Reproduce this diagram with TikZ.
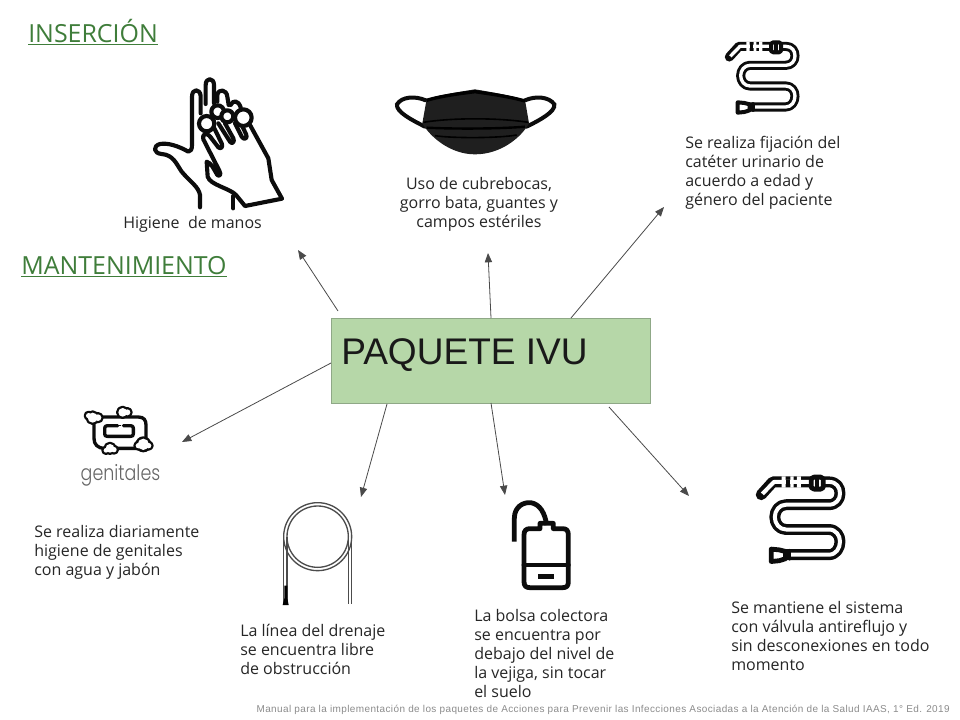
\documentclass[tikz,border=0pt]{standalone}
\usepackage{fontspec}
\setmainfont{Open Sans}
\newfontfamily\arialf{Liberation Sans}
\newfontfamily\arialspaced[LetterSpace=4]{Liberation Sans}
\newfontfamily\thinf[UprightFont={* Light}]{Poppins}
\usetikzlibrary{arrows.meta}
\definecolor{titlegreen}{HTML}{3F7D3A}
\definecolor{boxgreen}{HTML}{B6D7A8}
\definecolor{boxline}{HTML}{8FA887}
\definecolor{txt}{HTML}{262626}
\definecolor{arrowc}{HTML}{4A4A4A}
\definecolor{inkc}{HTML}{0C0C0C}
\tikzset{
  body/.style={font=\fontsize{12pt}{14.25pt}\selectfont,text=txt,inner sep=0pt,align=left,anchor=north west},
  bodyc/.style={body,align=center,anchor=north},
  heading/.style={font=\fontsize{18.7pt}{22pt}\selectfont,text=titlegreen,inner sep=0pt,anchor=west},
  link/.style={draw=arrowc,line width=0.6pt,-{Triangle[length=7pt,width=5.5pt,fill=arrowc]}},
  ink/.style={draw=inkc,line cap=round,line join=round},
}
% tube icon: #1,#2 origin in px, #3 scale from 3x-crop units to px
\newcommand{\tubeicon}[3]{%
  \begin{scope}[shift={(#1,#2)},x=#3*0.75pt,y=-#3*0.75pt]
    \draw[ink,line width=#3*20.5pt] (43,78) -- (72,46) -- (170,46) -- (212,46) .. controls (232,46) and (240,60) .. (240,75) .. controls (240,90) and (230,103) .. (212,103) -- (105,103) .. controls (88,103) and (77,118) .. (77,134) .. controls (77,150) and (88,165) .. (105,165) -- (212,165) .. controls (230,165) and (240,180) .. (240,195) .. controls (240,212) and (230,228) .. (212,228) -- (90,228);
    \draw[white,line width=#3*7.5pt,line join=round] (46,76) -- (75,46) -- (170,46) -- (212,46) .. controls (232,46) and (240,60) .. (240,75) .. controls (240,90) and (230,103) .. (212,103) -- (105,103) .. controls (88,103) and (77,118) .. (77,134) .. controls (77,150) and (88,165) .. (105,165) -- (212,165) .. controls (230,165) and (240,180) .. (240,195) .. controls (240,212) and (230,228) .. (212,228) -- (110,228);
    \fill[white] (94,32) rectangle (104,60) (116,32) rectangle (124,60) (132,32) rectangle (142,60);
    \fill[inkc] (106,40) rectangle (114,52);
    \draw[ink,fill=white,line width=#3*9pt] (168,38) -- (175,34) -- (192,34) -- (198,38) -- (198,60) -- (192,64) -- (175,64) -- (168,60) -- cycle;
    \draw[ink,line width=#3*7pt] (183,34) -- (183,64);
    \draw[ink,fill=white,line width=#3*9pt] (68,214) -- (88,216) -- (104,220) -- (104,238) -- (88,243) -- (68,245) -- cycle;
    \draw[ink,line width=#3*7pt] (114,218) -- (114,238);
  \end{scope}}
\begin{document}
\begin{tikzpicture}[x=0.75pt,y=-0.75pt]
\useasboundingbox (0,0) rectangle (960,720);
\fill[white] (0,0) rectangle (960,720);

% headings
\node[heading] (insercion) at (28,32.5) {\underline{INSERCIÓN}};
\node[heading] (mantenimiento) at (21,267) {\underline{MANTENIMIENTO}};

% central box
\node[draw=boxline,fill=boxgreen,line width=0.5pt,minimum width=239.25pt,minimum height=63.75pt,inner sep=0pt] (paquete) at (490.5,360.5) {};
\node[font=\arialf\fontsize{27.8pt}{30pt}\selectfont,text=black!90,inner sep=0pt,anchor=west] (paquetetxt) at (341,355) {PAQUETE IVU};

% hand
\begin{scope}[shift={(140,60)},x=0.25pt,y=-0.25pt]
  \draw[ink,line width=3.1pt] (180,442) -- (180,405) .. controls (176,380) and (150,365) .. (125,335) .. controls (108,310) and (100,285) .. (65,282) .. controls (40,280) and (38,258) .. (60,252) .. controls (85,248) and (115,258) .. (145,275) .. controls (152,275) and (156,268) .. (156,255) -- (156,110) .. controls (156,85) and (180,85) .. (182,108) -- (182,160);
  \draw[ink,line width=3.1pt] (197,132) -- (197,75) .. controls (197,52) and (222,52) .. (222,75) -- (222,130);
  \draw[ink,line width=3.1pt] (232,125) -- (232,105) .. controls (235,85) and (260,88) .. (262,110) -- (266,135);
  \draw[ink,line width=3.1pt] (272,135) .. controls (278,120) and (295,120) .. (302,142);
  \draw[ink,line width=3.1pt] (280,445) -- (280,408);
  \draw[ink,line width=3.1pt] (330,195) -- (385,295) -- (395,360) -- (426,416) -- (315,438) -- (288,405) .. controls (270,385) and (210,375) .. (203,350) -- (200,305) .. controls (215,310) and (220,325) .. (232,345) .. controls (238,350) and (245,345) .. (238,332) -- (190,238) .. controls (185,222) and (200,215) .. (212,232);
  \draw[ink,line width=3.1pt] (212,232) -- (235,262) .. controls (242,268) and (250,262) .. (245,250) -- (218,195);
  \draw[ink,line width=3.1pt] (235,190) -- (270,245) .. controls (276,255) and (285,245) .. (280,235) -- (255,190);
  \draw[ink,line width=3.1pt] (285,190) -- (305,230) .. controls (312,242) and (325,235) .. (318,222) -- (305,195);
  \draw[ink,fill=white,line width=3.1pt] (233,155) circle (19);
  \draw[ink,fill=white,line width=3.1pt] (262,169) circle (18);
  \draw[ink,fill=white,line width=3.1pt] (310,173) circle (25);
  \draw[ink,fill=white,line width=3.1pt] (200,191) circle (23);
\end{scope}

% mask
\begin{scope}[shift={(385,75)},x=0.25pt,y=-0.25pt]
  \draw[draw=inkc,line width=3pt,line cap=round] (122,76) .. controls (90,62) and (50,65) .. (36,88) .. controls (32,110) and (80,135) .. (120,155);
  \draw[draw=inkc,line width=3pt,line cap=round] (420,76) .. controls (452,62) and (492,65) .. (508,88) .. controls (512,110) and (465,135) .. (425,155);
  \fill[fill=black!88] (125,72) .. controls (170,58) and (240,48) .. (270,43) .. controls (310,50) and (375,60) .. (420,75) -- (432,145) .. controls (410,185) and (350,238) .. (270,238) .. controls (195,238) and (135,185) .. (112,145) -- cycle;
  \draw[draw=black,line width=2.5pt] (125,76) .. controls (170,62) and (240,54) .. (270,50) .. controls (310,56) and (375,65) .. (420,78);
  \draw[draw=black,line width=1.2pt] (115,142) .. controls (200,128) and (340,128) .. (430,142);
  \draw[draw=black,line width=1.8pt] (125,158) .. controls (200,162) and (340,162) .. (420,155);
  \draw[draw=black,line width=1.2pt] (150,182) .. controls (200,190) and (340,190) .. (395,180);
\end{scope}

% tube icons
\tubeicon{715}{31}{0.3333}
\tubeicon{744}{463.5}{0.4}

% soap
\begin{scope}[shift={(70,395)},x=0.25pt,y=-0.25pt]
  \draw[ink,line width=2.5pt] (95,66) -- (205,66) .. controls (222,66) and (228,76) .. (228,90) -- (228,128) (205,160) -- (120,160) (105,160) .. controls (82,160) and (72,148) .. (72,130) -- (72,78);
  \draw[ink,line width=2.5pt] (143,92) -- (112,92) .. controls (106,92) and (104,95) .. (104,100) -- (104,116) .. controls (104,122) and (106,124) .. (112,124) -- (182,124) .. controls (188,124) and (190,122) .. (190,116) -- (190,100) .. controls (190,95) and (188,92) .. (182,92) -- (160,92);
  \fill[inkc] (147,90) rectangle (152,94);
  \foreach \cx/\cy/\rr in {68/68/17,84/68/12,56/62/10,158/52/15,172/52/11,120/160/15,132/164/10,108/166/9,220/148/19,236/152/10,205/152/10}{
    \draw[ink,fill=white,line width=2.5pt] (\cx,\cy) circle (\rr);
  }
  \foreach \cx/\cy/\rr in {68/68/15,84/68/10,56/62/8,158/52/13,172/52/9,120/160/13,132/164/8,108/166/7,220/148/17,236/152/8,205/152/8}{
    \fill[white] (\cx,\cy) circle (\rr);
  }
\end{scope}
\node[font=\thinf\fontsize{16pt}{18pt}\selectfont,text=black!60,inner sep=0pt,xscale=0.82] (genitales) at (120.5,475) {genitales};

% catheter
\begin{scope}[shift={(270,495)},x=0.25pt,y=-0.25pt]
  \draw[draw=black!70,line width=1pt] (143,125) circle (102);
  \draw[draw=black!70,line width=1pt] (143,125) circle (92);
  \draw[draw=black!70,line width=1pt] (41,125) -- (41,330) (51,125) -- (51,330) (235,125) -- (235,327) (245,125) -- (245,327);
  \fill[black] (43,272) -- (52,272) -- (52,310) -- (56,330) -- (38,330) -- (43,310) -- cycle;
\end{scope}

% bag
\begin{scope}[shift={(500,490)},x=0.25pt,y=-0.25pt]
  \draw[ink,line cap=butt,line width=3.6pt] (43,155) -- (43,85) .. controls (43,50) and (70,36) .. (92,38) .. controls (120,42) and (135,70) .. (140,105);
  \draw[ink,line width=3.6pt] (72,135) .. controls (72,122) and (78,116) .. (90,116) -- (120,116) -- (120,100) -- (160,100) -- (160,116) -- (188,116) .. controls (200,116) and (205,122) .. (205,135) -- (205,275) .. controls (205,288) and (200,293) .. (188,293) -- (90,293) .. controls (78,293) and (72,288) .. (72,275) -- cycle;
  \draw[ink,line width=3.6pt] (72,225) -- (205,225);
  \fill[inkc] (115,252) rectangle (163,268);
\end{scope}

% labels
\node[body] (higiene) at (123,216) {Higiene\ \ de manos};
\node[bodyc] (cubre) at (479,177) {Uso de cubrebocas,\\gorro bata, guantes y\\campos estériles};
\node[body] (fijacion) at (685,136) {Se realiza fijación del\\catéter urinario de\\acuerdo a edad y\\género del paciente};
\node[body] (diaria) at (34,525) {Se realiza diariamente\\higiene de genitales\\con agua y jabón};
\node[body] (linea) at (240,624) {La línea del drenaje\\se encuentra libre\\de obstrucción};
\node[body] (bolsa) at (474,609) {La bolsa colectora\\se encuentra por\\debajo del nivel de\\la vejiga, sin tocar\\el suelo};
\node[body] (sistema) at (731,601) {Se mantiene el sistema\\con válvula antireflujo y\\sin desconexiones en todo\\momento};
\node[font=\arialspaced\fontsize{7.48pt}{8pt}\selectfont,text=black!45,inner sep=0pt,anchor=east] (manual) at (950,709.5) {Manual para la implementación de los paquetes de Acciones para Prevenir las Infecciones Asociadas a la Atención de la Salud IAAS, 1° Ed. 2019};

% connector ends
\coordinate (s1) at (338,311); \coordinate (e1) at (298,250);
\coordinate (s2) at (491,318); \coordinate (e2) at (488,253);
\coordinate (s3) at (571,318); \coordinate (e3) at (664,207);
\coordinate (s4) at (331,363); \coordinate (e4) at (182,442);
\coordinate (s5) at (387,404); \coordinate (e5) at (361,497);
\coordinate (s6) at (491,403); \coordinate (e6) at (505,495);
\coordinate (s7) at (609,407); \coordinate (e7) at (689,496);
\foreach \i in {1,...,7}{\draw[link] (s\i) -- (e\i);}
\end{tikzpicture}
\end{document}
